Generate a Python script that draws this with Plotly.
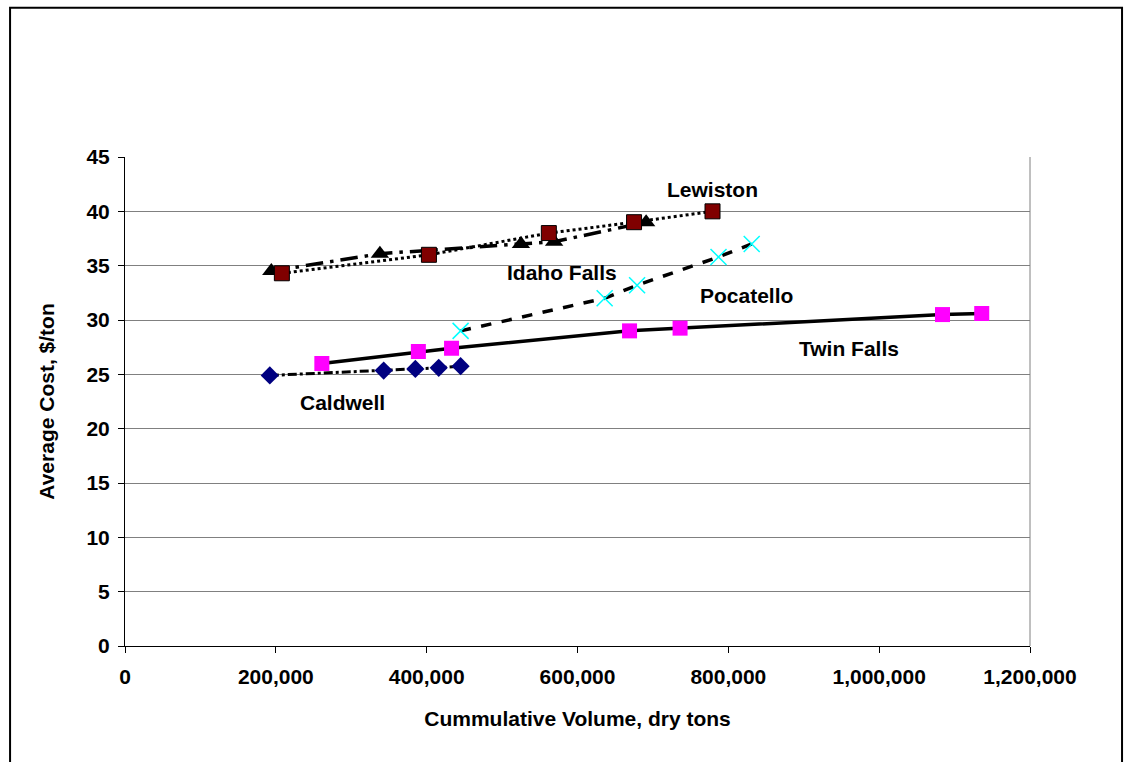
import plotly.graph_objects as go

lewiston_x = [208000, 403000, 562000, 675000, 779000]
lewiston_y = [34.3, 36.0, 38.0, 39.0, 40.0]

idaho_x = [194000, 338000, 525000, 569000, 691000]
idaho_y = [34.5, 36.1, 37.0, 37.2, 39.0]

pocatello_x = [445000, 636000, 679000, 787000, 831000]
pocatello_y = [29.0, 32.0, 33.2, 35.8, 37.0]

twin_x = [261000, 389000, 433000, 669000, 736000, 1084000, 1136000]
twin_y = [26.0, 27.1, 27.4, 29.0, 29.25, 30.5, 30.6]

caldwell_x = [192000, 343000, 385000, 416000, 445000]
caldwell_y = [24.9, 25.35, 25.5, 25.6, 25.75]

labels = ["Lewiston", "Idaho Falls", "Pocatello", "Twin Falls", "Caldwell"]
label_x = [779000, 580000, 824000, 960000, 289000]
label_y = [42.0, 34.4, 32.3, 27.4, 22.4]

FONT = "Liberation Sans, Arial, sans-serif"

fig = go.Figure()

fig.add_trace(go.Scatter(x=caldwell_x, y=caldwell_y, mode="lines+markers", name="Caldwell",
                         line=dict(color="black", width=3, dash="dashdot"),
                         marker=dict(symbol="diamond", size=14, color="#000080")))
fig.add_trace(go.Scatter(x=twin_x, y=twin_y, mode="lines+markers", name="Twin Falls",
                         line=dict(color="black", width=3.5),
                         marker=dict(symbol="square", size=15, color="#FF00FF")))
fig.add_trace(go.Scatter(x=pocatello_x, y=pocatello_y, mode="lines+markers", name="Pocatello",
                         line=dict(color="black", width=3.5, dash="dash"),
                         marker=dict(symbol="x-thin", size=16, color="#00FFFF",
                                     line=dict(color="#00FFFF", width=1.5))))
fig.add_trace(go.Scatter(x=idaho_x, y=idaho_y, mode="lines+markers", name="Idaho Falls",
                         line=dict(color="black", width=3.5, dash="longdashdot"),
                         marker=dict(symbol="triangle-up", size=16, color="black")))
fig.add_trace(go.Scatter(x=lewiston_x, y=lewiston_y, mode="lines+markers", name="Lewiston",
                         line=dict(color="black", width=3, dash="dot"),
                         marker=dict(symbol="square", size=15, color="#800000",
                                     line=dict(color="black", width=1))))

for t, lx, ly in zip(labels, label_x, label_y):
    fig.add_annotation(x=lx, y=ly, text="<b>" + t + "</b>", showarrow=False,
                       font=dict(family=FONT, size=21, color="black"))

# outer chart border (plot area is 905 x 489 px)
fig.add_shape(type="rect", xref="paper", yref="paper",
              x0=-0.127, x1=1.1017, y0=-0.26, y1=1.305,
              line=dict(color="black", width=2), layer="below")
# plot area right border
fig.add_shape(type="line", xref="paper", yref="paper", x0=1, x1=1, y0=0, y1=1,
              line=dict(color="#808080", width=1))

fig.update_layout(
    width=1126, height=762,
    margin=dict(l=125, r=96, t=157, b=116),
    plot_bgcolor="white", paper_bgcolor="white",
    showlegend=False,
    font=dict(family=FONT, size=21, color="black"),
)
fig.update_xaxes(range=[0, 1200000], dtick=200000, tickformat=",", tickfont=dict(size=21),
                 ticks="outside", ticklen=6, tickcolor="black", showgrid=False,
                 showline=True, linecolor="black", linewidth=1, zeroline=False,
                 ticklabelstandoff=6,
                 title=dict(text="<b>Cummulative Volume, dry tons</b>", font=dict(size=21), standoff=24),
                 tickprefix="<b>", ticksuffix="</b>")
fig.update_yaxes(range=[0, 45], dtick=5, tickfont=dict(size=21),
                 ticks="outside", ticklen=6, tickcolor="black",
                 showgrid=True, gridcolor="#808080", gridwidth=1,
                 showline=True, linecolor="black", linewidth=1, zeroline=False,
                 ticklabelstandoff=4,
                 title=dict(text="<b>Average Cost, $/ton</b>", font=dict(size=21), standoff=26),
                 tickprefix="<b>", ticksuffix="</b>")

fig.write_html("out.html", config={"displayModeBar": False},
               post_script="document.body.style.margin='0';document.body.style.overflow='hidden';")
